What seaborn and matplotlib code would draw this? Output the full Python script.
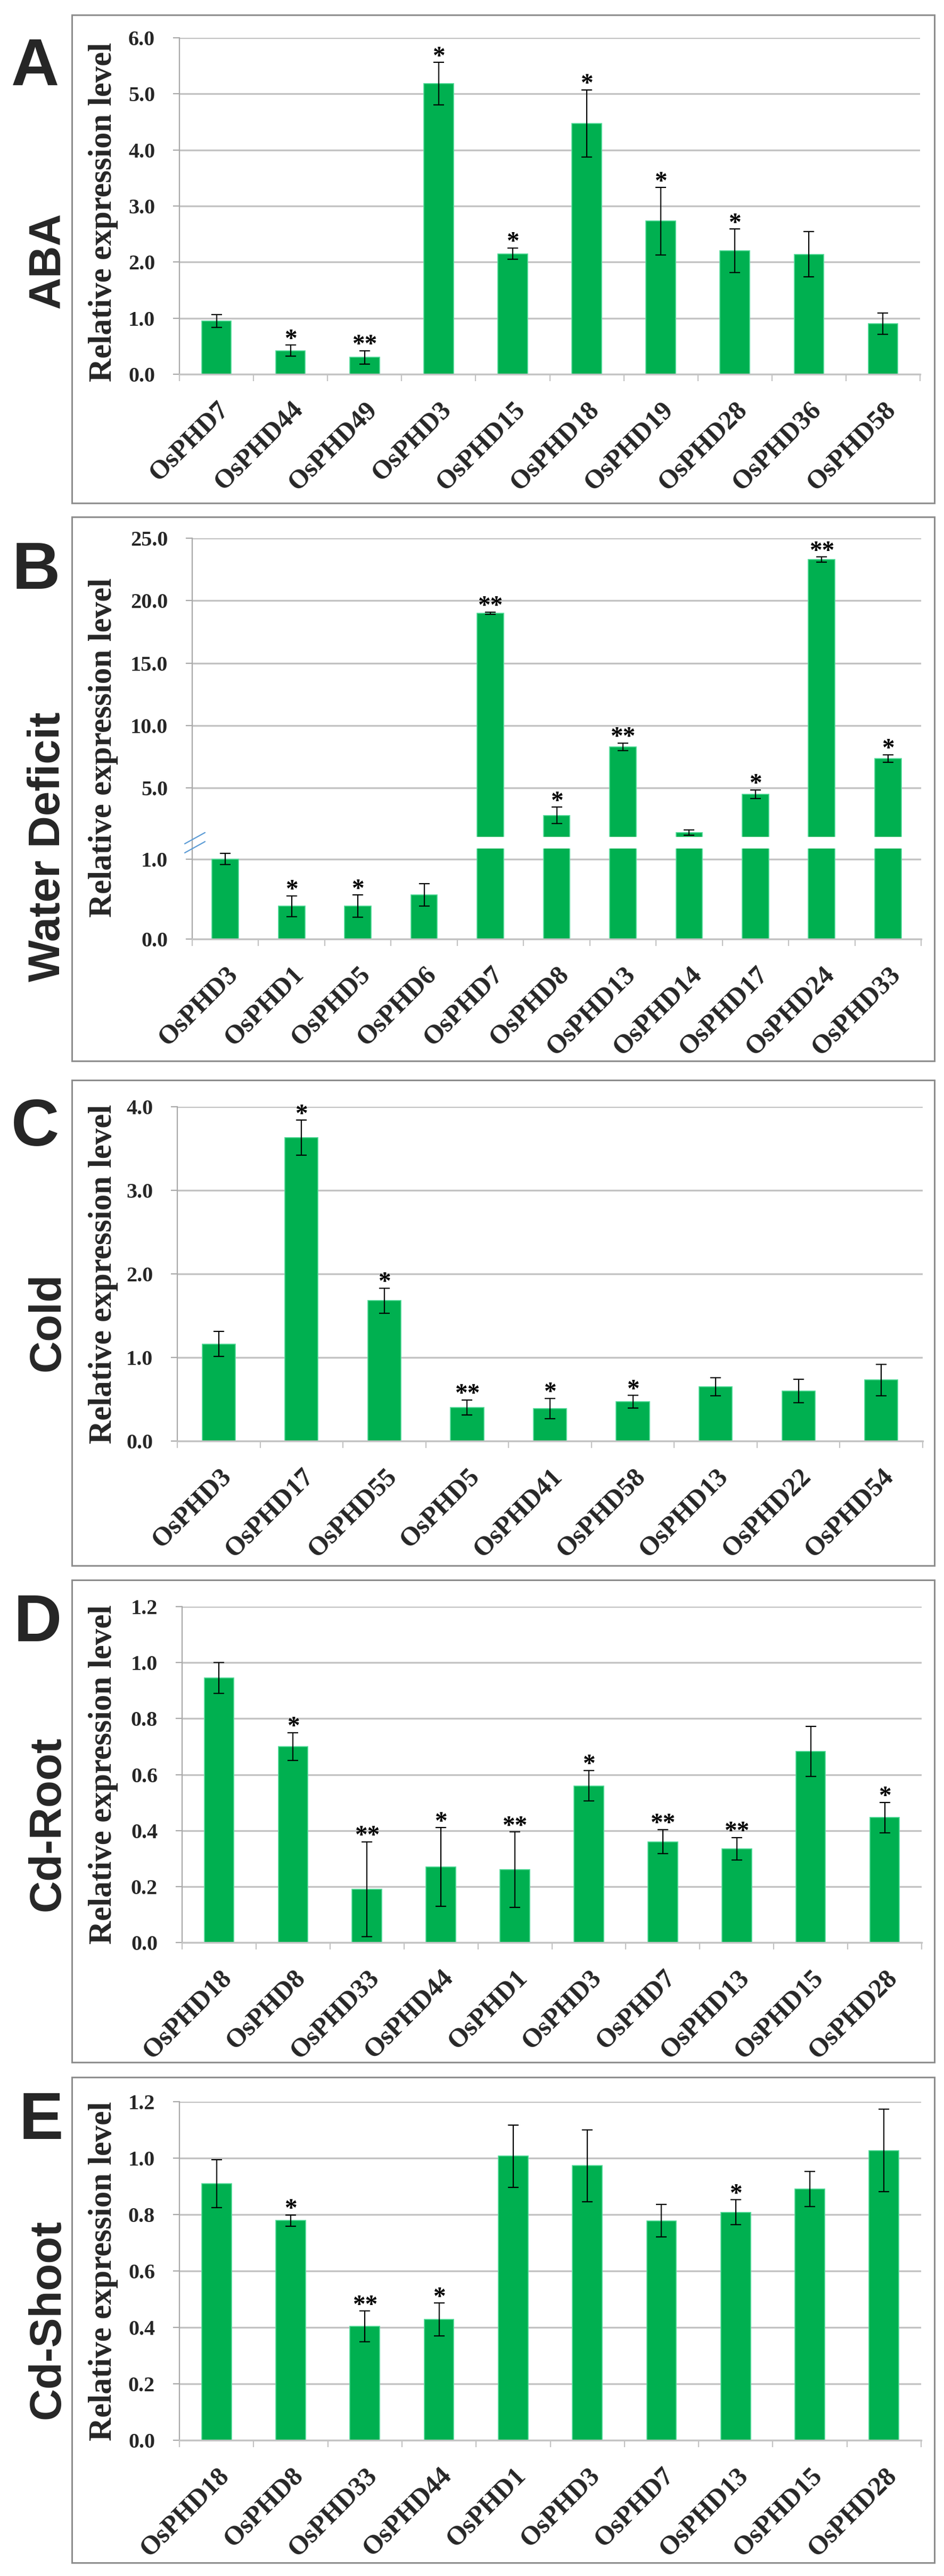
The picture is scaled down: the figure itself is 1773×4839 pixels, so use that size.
import matplotlib
matplotlib.use("Agg")
import matplotlib.pyplot as plt
import seaborn as sns
from matplotlib.patches import Rectangle
from matplotlib.lines import Line2D

# ---- data ----
A_genes = ['OsPHD7', 'OsPHD44', 'OsPHD49', 'OsPHD3', 'OsPHD15', 'OsPHD18',
           'OsPHD19', 'OsPHD28', 'OsPHD36', 'OsPHD58']
A_vals = [0.95, 0.42, 0.30, 5.18, 2.15, 4.47, 2.73, 2.20, 2.14, 0.90]
A_err = [0.11, 0.10, 0.12, 0.38, 0.10, 0.60, 0.60, 0.39, 0.40, 0.19]
A_sig = ['', '*', '**', '*', '*', '*', '*', '*', '', '']

B_genes = ['OsPHD3', 'OsPHD1', 'OsPHD5', 'OsPHD6', 'OsPHD7', 'OsPHD8',
           'OsPHD13', 'OsPHD14', 'OsPHD17', 'OsPHD24', 'OsPHD33']
B_vals = [1.00, 0.41, 0.41, 0.55, 19.0, 2.8, 8.3, 1.42, 4.5, 23.3, 7.35]
B_err = [0.07, 0.13, 0.14, 0.14, 0.08, 0.65, 0.30, 0.23, 0.33, 0.20, 0.30]
B_sig = ['', '*', '*', '', '**', '*', '**', '', '*', '**', '*']

C_genes = ['OsPHD3', 'OsPHD17', 'OsPHD55', 'OsPHD5', 'OsPHD41', 'OsPHD58',
           'OsPHD13', 'OsPHD22', 'OsPHD54']
C_vals = [1.16, 3.63, 1.68, 0.40, 0.39, 0.47, 0.65, 0.60, 0.73]
C_err = [0.15, 0.21, 0.15, 0.09, 0.12, 0.075, 0.11, 0.14, 0.19]
C_sig = ['', '*', '*', '**', '*', '*', '', '', '']

D_genes = ['OsPHD18', 'OsPHD8', 'OsPHD33', 'OsPHD44', 'OsPHD1', 'OsPHD3',
           'OsPHD7', 'OsPHD13', 'OsPHD15', 'OsPHD28']
D_vals = [0.945, 0.70, 0.19, 0.27, 0.26, 0.56, 0.36, 0.335, 0.683, 0.446]
D_err = [0.055, 0.05, 0.17, 0.14, 0.135, 0.055, 0.043, 0.04, 0.09, 0.054]
D_sig = ['', '*', '**', '*', '**', '*', '**', '**', '', '*']

E_genes = ['OsPHD18', 'OsPHD8', 'OsPHD33', 'OsPHD44', 'OsPHD1', 'OsPHD3',
           'OsPHD7', 'OsPHD13', 'OsPHD15', 'OsPHD28']
E_vals = [0.909, 0.779, 0.404, 0.428, 1.007, 0.973, 0.778, 0.808, 0.891, 1.027]
E_err = [0.085, 0.02, 0.054, 0.058, 0.11, 0.127, 0.058, 0.044, 0.062, 0.146]
E_sig = ['', '*', '**', '*', '', '', '', '*', '', '']

YLABEL = 'Relative expression level'

# ---- style ----
W, H = 1773, 4839
GREEN = '#00B050'
EDGE = '#4FD996'
GRID = '#C3C3C3'
AXIS = '#A8A8A8'
SERIF = ['Liberation Serif', 'DejaVu Serif']
SANS = ['Liberation Sans', 'DejaVu Sans']

sns.set_theme(style="white")
plt.rcParams['font.family'] = SERIF


def fx(x):
    return x / W


def fy(y):
    return 1 - y / H


def px_axes(fig, l, t, r, b):
    return fig.add_axes([l / W, 1 - b / H, (r - l) / W, (b - t) / H])


def style_axis(ax, ylim, yticks, fmt):
    ax.set_ylim(*ylim)
    ax.set_yticks(yticks)
    ax.set_yticklabels([fmt.format(t) for t in yticks], fontsize=29,
                       fontweight='bold', family=SERIF)
    ax.set_ylabel('')
    ax.set_xlabel('')
    ax.yaxis.grid(True, color=GRID, linewidth=2.4)
    ax.xaxis.grid(False)
    ax.set_axisbelow(True)
    for s in ['top', 'right']:
        ax.spines[s].set_visible(False)
    ax.spines['left'].set_color(AXIS)
    ax.spines['left'].set_linewidth(1.6)
    ax.spines['bottom'].set_color(GRID)
    ax.spines['bottom'].set_linewidth(2.4)
    ax.tick_params(axis='y', direction='out', length=9, width=1.6,
                   color=AXIS, pad=24, left=True)


def style_xlabels(ax, genes):
    n = len(genes)
    ax.set_xticks(range(n))
    ax.set_xticklabels(genes, rotation=45, ha='right', va='top',
                       rotation_mode='anchor', fontsize=36,
                       fontweight='bold', family=SERIF)
    ax.set_xticks([i - 0.5 for i in range(n + 1)], minor=True)
    ax.tick_params(axis='x', which='major', length=0, pad=31, bottom=True)
    ax.tick_params(axis='x', which='minor', direction='out', length=9,
                   width=1.6, color=GRID, bottom=True)
    ax.set_xlim(-0.5, n - 0.5)


def bars(ax, genes, vals):
    sns.barplot(x=genes, y=vals, color=GREEN, width=0.4, saturation=1,
                edgecolor=EDGE, linewidth=1.2, errorbar=None, ax=ax, zorder=2)


def errbars(ax, idx, vals, errs):
    if idx:
        ax.errorbar(idx, [vals[i] for i in idx], yerr=[errs[i] for i in idx],
                    fmt='none', ecolor='black', elinewidth=1.6, capsize=7,
                    capthick=1.6, zorder=3)


def stars(ax, i, top, sig):
    if sig:
        ax.annotate(sig, xy=(i, top), xytext=(0, -1), textcoords='offset points',
                    ha='center', va='baseline', fontsize=34, fontweight='bold',
                    family=SERIF, color='black', annotation_clip=False, zorder=4)


def simple_panel(fig, box, genes, vals, errs, sigs, ylim, yticks, fmt):
    ax = px_axes(fig, *box)
    bars(ax, genes, vals)
    errbars(ax, list(range(len(genes))), vals, errs)
    style_axis(ax, ylim, yticks, fmt)
    style_xlabels(ax, genes)
    for i, (v, e, s) in enumerate(zip(vals, errs, sigs)):
        stars(ax, i, v + e, s)
    return ax


def frame(fig, l, t, r, b, letter, letter_xy, cond, cond_y, ylab_y):
    fig.patches.append(Rectangle((fx(l), fy(b)), (r - l) / W, (b - t) / H,
                                 transform=fig.transFigure, fill=False,
                                 edgecolor='#8E8E8E', linewidth=2.2))
    fig.text(fx(letter_xy[0]), fy(letter_xy[1]), letter, ha='center',
             va='baseline', fontsize=90, fontweight='bold', family=SANS)
    fig.text(fx(112), fy(cond_y), cond, rotation=90, rotation_mode='anchor',
             ha='center', va='baseline', fontsize=60, fontweight='bold',
             family=SANS)
    fig.text(fx(209), fy(ylab_y), YLABEL, rotation=90, rotation_mode='anchor',
             ha='center', va='baseline', fontsize=44, fontweight='bold',
             family=SERIF)


fig = plt.figure(figsize=(W / 100, H / 100), dpi=100)
fig.patch.set_facecolor('white')

# A: ABA
simple_panel(fig, (337, 71, 1728, 703), A_genes, A_vals, A_err, A_sig,
             (0, 6), [0, 1, 2, 3, 4, 5, 6], '{:.1f}')
frame(fig, 135, 28, 1755, 945, 'A', (66, 160), 'ABA', 489, 398)

# B: Water deficit, broken axis
ax_up = px_axes(fig, 361, 1011, 1730, 1572)
ax_lo = px_axes(fig, 361, 1594, 1730, 1764)
lo_lim, up_lim = (0, 1.13), (1.08, 25)
for ax in (ax_up, ax_lo):
    bars(ax, B_genes, B_vals)
low_idx = [i for i, v in enumerate(B_vals) if v < lo_lim[1]]
up_idx = [i for i, v in enumerate(B_vals) if v >= lo_lim[1]]
errbars(ax_lo, low_idx, B_vals, B_err)
errbars(ax_up, up_idx, B_vals, B_err)
style_axis(ax_up, up_lim, [5, 10, 15, 20, 25], '{:.1f}')
style_axis(ax_lo, lo_lim, [0, 1], '{:.1f}')
ax_up.spines['bottom'].set_visible(False)
ax_up.set_xticks([])
ax_up.set_xlim(-0.5, len(B_genes) - 0.5)
style_xlabels(ax_lo, B_genes)
for i, (v, e, s) in enumerate(zip(B_vals, B_err, B_sig)):
    stars(ax_lo if i in low_idx else ax_up, i, v + e, s)
fig.lines.append(Line2D([fx(361), fx(361)], [fy(1572), fy(1594)],
                        transform=fig.transFigure, color=AXIS, linewidth=1.6))
for y0 in (1585, 1602):
    fig.lines.append(Line2D([fx(347), fx(385)], [fy(y0), fy(y0 - 21)],
                            transform=fig.transFigure, color='#5B9BD5',
                            linewidth=1.6))
frame(fig, 135, 971, 1755, 1993, 'B', (68, 1106), 'Water Deficit', 1591, 1404)

# C: Cold
simple_panel(fig, (333, 2079, 1733, 2707), C_genes, C_vals, C_err, C_sig,
             (0, 4), [0, 1, 2, 3, 4], '{:.1f}')
frame(fig, 135, 2029, 1755, 2941, 'C', (66, 2152), 'Cold', 2483, 2393)

# D: Cd-Root
simple_panel(fig, (342, 3018, 1731, 3649), D_genes, D_vals, D_err, D_sig,
             (0, 1.2), [0, 0.2, 0.4, 0.6, 0.8, 1.0, 1.2], '{:.1f}')
frame(fig, 135, 2968, 1755, 3874, 'D', (71, 3083), 'Cd-Root', 3426, 3333)

# E: Cd-Shoot
simple_panel(fig, (337, 3948, 1730, 4584), E_genes, E_vals, E_err, E_sig,
             (0, 1.2), [0, 0.2, 0.4, 0.6, 0.8, 1.0, 1.2], '{:.1f}')
frame(fig, 135, 3902, 1755, 4814, 'E', (77, 4018), 'Cd-Shoot', 4357, 4266)

fig.savefig('out.png', dpi=100, facecolor='white')
